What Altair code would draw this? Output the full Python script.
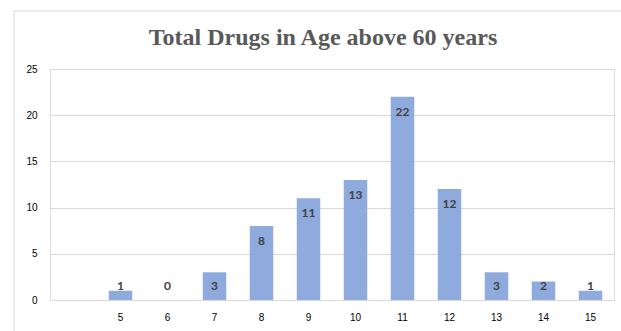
import altair as alt
import pandas as pd

categories = ["5", "6", "7", "8", "9", "10", "11", "12", "13", "14", "15"]
values = [1, 0, 3, 8, 11, 13, 22, 12, 3, 2, 1]
domain = ["4"] + categories  # leading blank slot as in the reference
title_text = "Total Drugs in Age above 60 years"

df = pd.DataFrame({"cat": categories, "v": values})

W, H = 564, 231

xscale = alt.Scale(domain=domain, paddingInner=0.5, paddingOuter=0.25)
x = alt.X("cat:N", sort=domain, scale=xscale,
          axis=alt.Axis(title=None, labelAngle=0, domain=False, ticks=False,
                        labelPadding=12, labelExpr="datum.value == '4' ? '' : datum.value"))
y = alt.Y("v:Q", scale=alt.Scale(domain=[0, 25], nice=False),
          axis=alt.Axis(title=None, values=[0, 5, 10, 15, 20, 25], domain=False,
                        ticks=False, labelPadding=13, gridColor="#d9d9d9"))

base = alt.Chart(df)
one = alt.Chart(pd.DataFrame({"t": [title_text]}))

frame_top = one.mark_rule(color="#d9d9d9", strokeWidth=1, clip=False).encode(
    x=alt.value(-36), x2=alt.value(W + 60), y=alt.value(-58))
frame_left = one.mark_rule(color="#d9d9d9", strokeWidth=1, clip=False).encode(
    x=alt.value(-36), y=alt.value(-58), y2=alt.value(H + 40))

title = one.mark_text(font="Liberation Serif", fontSize=24, fontWeight="bold",
                      color="#595959", align="center", baseline="middle").encode(
    x=alt.value(273), y=alt.value(-31), text="t:N")

bars = base.mark_bar(color="#8faadc").encode(x=x, y=y)

labels = base.transform_calculate(
    ly="max(datum.v - 1.62, 1.52)"
).mark_text(fontWeight="bold", color="#404040", fontSize=12, font="Lato",
            baseline="middle").encode(
    x=alt.X("cat:N", sort=domain, scale=xscale),
    y=alt.Y("ly:Q"),
    text="v:Q",
)

chart = alt.layer(frame_top, frame_left, bars, labels, title).properties(
    width=W, height=H,
    autosize=alt.AutoSizeParams(type="none"),
    padding={"left": 50, "top": 69, "right": 7, "bottom": 31},
).configure_view(stroke=None, strokeWidth=0).configure_axis(
    labelFont="Lato", labelFontSize=12, labelColor="#666666"
).configure_axisX(grid=False).configure(background="white")

chart.save("out.html", embed_options={"renderer": "svg", "actions": False})
